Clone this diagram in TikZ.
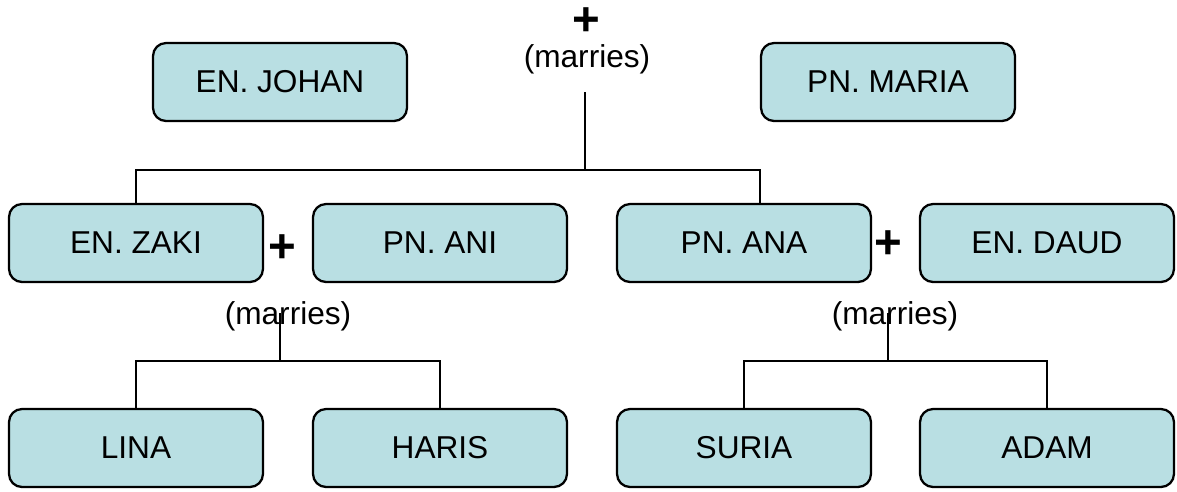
\documentclass[tikz,border=0pt]{standalone}
\usepackage{fontspec}
\setmainfont{Liberation Sans}
\definecolor{boxfill}{RGB}{185,223,227}
\tikzset{
  person/.style={draw, line width=1.3pt, fill=boxfill, rounded corners=0.26cm,
    minimum width=5.08cm, minimum height=1.56cm, font=\fontsize{18}{21}\selectfont},
  plus/.style={font=\fontsize{27}{30}\selectfont\bfseries, inner sep=0pt},
  wed/.style={font=\fontsize{18}{21}\selectfont, inner sep=0pt},
  link/.style={line width=1.3pt}
}
\begin{document}
\begin{tikzpicture}[x=0.02cm, y=-0.02cm]
    \useasboundingbox (0,0) rectangle (1177,491);

    % Parents
    \node[person] (johan) at (280,82) {EN. JOHAN};
    \node[person] (maria) at (888,82) {PN. MARIA};
    \node[plus] (plus0) at (586,22) {+};
    \node[wed] (wed0) at (587,59) {(marries)};

    % Children and their spouses
    \node[person] (zaki) at (136,243) {EN. ZAKI};
    \node[person] (ani) at (440,243) {PN. ANI};
    \node[person] (ana) at (744,243) {PN. ANA};
    \node[person] (daud) at (1047,243) {EN. DAUD};
    \node[plus] (plus1) at (282,249) {+};
    \node[plus] (plus2) at (888,245) {+};
    \node[wed] (wed1) at (288,316) {(marries)};
    \node[wed] (wed2) at (895,316) {(marries)};

    % Grandchildren
    \node[person] (lina) at (136,448) {LINA};
    \node[person] (haris) at (440,448) {HARIS};
    \node[person] (suria) at (744,448) {SURIA};
    \node[person] (adam) at (1047,448) {ADAM};

    % Family lines
    \coordinate (stem0) at (585,92);
    \coordinate (fork0) at (585,170);
    \draw[link] (stem0) -- (fork0) -| (zaki.north);
    \draw[link] (fork0) -| ([xshift=0.32cm]ana.north);

    \coordinate (stem1) at (280,313);
    \coordinate (fork1) at (280,361);
    \draw[link] (stem1) -- (fork1) -| (lina.north);
    \draw[link] (fork1) -| (haris.north);

    \coordinate (stem2) at (888,313);
    \coordinate (fork2) at (888,361);
    \draw[link] (stem2) -- (fork2) -| (suria.north);
    \draw[link] (fork2) -| (adam.north);

\end{tikzpicture}
\end{document}
